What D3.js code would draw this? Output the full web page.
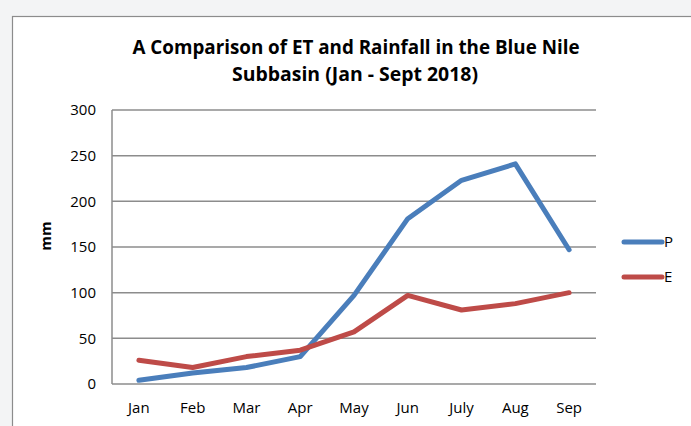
<!DOCTYPE html>
<html>
<head>
<meta charset="utf-8">
<script src="https://d3js.org/d3.v7.min.js"></script>
<style>
  body { margin: 0; background: #f3f4f5; }
  svg { display: block; }
  text { font-family: "Open Sans", sans-serif; fill: #000; }
</style>
</head>
<body>
<div id="container"></div>
<script>
let width = 691;
let height = 426;

let months = ["Jan", "Feb", "Mar", "Apr", "May", "Jun", "July", "Aug", "Sep"];
let rainP = [4, 12, 18, 30, 97, 181, 223, 241, 147];
let etE = [26, 18, 30, 37, 57, 97, 81, 88, 100];
let yTicks = [0, 50, 100, 150, 200, 250, 300];

let margin = { left: 112, right: 596, top: 110, bottom: 384 };

let svg = d3.select("#container")
  .append("svg")
  .attr("width", width)
  .attr("height", height);

// chart box
svg.append("rect")
  .attr("x", 12.5).attr("y", 16.5)
  .attr("width", 700).attr("height", 430)
  .attr("fill", "#fff")
  .attr("stroke", "#8c8c8c")
  .attr("stroke-width", 1.2);

svg.append("text")
  .attr("x", 356).attr("y", 54)
  .attr("text-anchor", "middle")
  .attr("textLength", 447)
  .attr("lengthAdjust", "spacingAndGlyphs")
  .style("font-size", "19px").style("font-weight", "bold")
  .text("A Comparison of ET and Rainfall in the Blue Nile");
svg.append("text")
  .attr("x", 355).attr("y", 81)
  .attr("text-anchor", "middle")
  .attr("textLength", 246)
  .attr("lengthAdjust", "spacingAndGlyphs")
  .style("font-size", "19px").style("font-weight", "bold")
  .text("Subbasin (Jan - Sept 2018)");

let x = d3.scaleBand()
  .domain(months)
  .range([margin.left, margin.right]);

let y = d3.scaleLinear()
  .domain([0, 300])
  .range([margin.bottom, margin.top]);

// gridlines
svg.append("g")
  .selectAll("line")
  .data(yTicks)
  .enter().append("line")
  .attr("x1", margin.left).attr("x2", margin.right)
  .attr("y1", d => y(d)).attr("y2", d => y(d))
  .attr("stroke", "#8c8c8c")
  .attr("stroke-width", 1.5);

svg.append("line")
  .attr("x1", margin.left).attr("x2", margin.left)
  .attr("y1", margin.top).attr("y2", margin.bottom)
  .attr("stroke", "#8c8c8c")
  .attr("stroke-width", 1.5);

// y tick labels
svg.append("g")
  .selectAll("text")
  .data(yTicks)
  .enter().append("text")
  .attr("x", 96).attr("y", d => y(d))
  .attr("text-anchor", "end")
  .attr("dy", "0.35em")
  .style("font-size", "15px")
  .text(d => d);

// x tick labels
svg.append("g")
  .selectAll("text")
  .data(months)
  .enter().append("text")
  .attr("x", d => x(d) + x.bandwidth() / 2)
  .attr("y", 413)
  .attr("text-anchor", "middle")
  .style("font-size", "15px")
  .text(d => d);

svg.append("text")
  .attr("transform", "translate(51,236) rotate(-90)")
  .attr("text-anchor", "middle")
  .style("font-size", "15px").style("font-weight", "bold")
  .text("mm");

let line = d3.line()
  .x((d, i) => x(months[i]) + x.bandwidth() / 2)
  .y(d => y(d));

let series = [
  { name: "P", values: rainP, color: "#4a7ebb" },
  { name: "E", values: etE, color: "#be4b48" }
];

series.forEach(function (s) {
  svg.append("path")
    .attr("d", line(s.values))
    .attr("fill", "none")
    .attr("stroke", s.color)
    .attr("stroke-width", 5)
    .attr("stroke-linecap", "round")
    .attr("stroke-linejoin", "round");
});

// legend
series.forEach(function (s, i) {
  let ly = 242 + i * 35;
  svg.append("line")
    .attr("x1", 624).attr("x2", 662)
    .attr("y1", ly).attr("y2", ly)
    .attr("stroke", s.color)
    .attr("stroke-width", 5)
    .attr("stroke-linecap", "round");
  svg.append("text")
    .attr("x", 664).attr("y", ly)
    .attr("dy", "0.35em")
    .style("font-size", "15px")
    .text(s.name);
});
</script>
</body>
</html>
